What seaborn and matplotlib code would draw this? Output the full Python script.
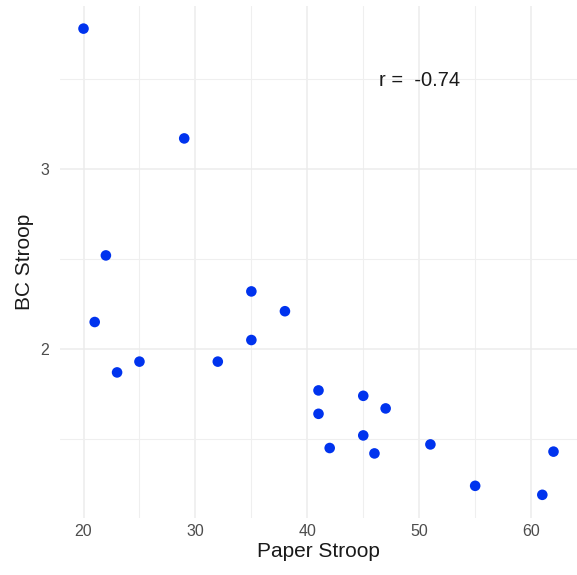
import numpy as np
import pandas as pd
import seaborn as sns
import matplotlib.pyplot as plt
from matplotlib.ticker import MultipleLocator

# Data
paper_stroop = [20, 29, 22, 21, 23, 25, 32, 35, 35, 38, 41, 41, 45, 47, 45, 42, 46, 51, 55, 61, 62]
bc_stroop = [3.78, 3.17, 2.52, 2.15, 1.87, 1.93, 1.93, 2.32, 2.05, 2.21, 1.77, 1.64, 1.74, 1.67,
             1.52, 1.45, 1.42, 1.47, 1.24, 1.19, 1.43]
r_label = "r =  -0.74"

df = pd.DataFrame({"Paper Stroop": paper_stroop, "BC Stroop": bc_stroop})

sns.set_style("white")
plt.rcParams['font.family'] = ['Liberation Sans', 'DejaVu Sans']

fig = plt.figure(figsize=(5.77, 5.75), dpi=100)
ax = fig.add_axes([0.104, 0.100, 0.896, 0.890])

sns.scatterplot(data=df, x="Paper Stroop", y="BC Stroop", color="#0033ee",
                s=58, edgecolor="none", ax=ax, zorder=3)

ax.set_xlim(17.9, 64.1)
ax.set_ylim(1.064, 3.907)
ax.xaxis.set_major_locator(MultipleLocator(10))
ax.xaxis.set_minor_locator(MultipleLocator(5))
ax.yaxis.set_major_locator(MultipleLocator(1))
ax.yaxis.set_minor_locator(MultipleLocator(0.5))
ax.grid(which="major", color="#ececec", linewidth=1.1)
ax.grid(which="minor", color="#efefef", linewidth=0.8)
ax.set_axisbelow(True)
for s in ax.spines.values():
    s.set_visible(False)
ax.tick_params(which="both", length=0, labelsize=11.5, labelcolor="#4d4d4d")
ax.tick_params(axis="x", pad=5)
ax.tick_params(axis="y", pad=8)

ax.set_xlabel("Paper Stroop", fontsize=15, color="#1a1a1a", labelpad=2)
ax.set_ylabel("BC Stroop", fontsize=15, color="#1a1a1a", labelpad=4)

ax.text(50, 3.49, r_label, ha="center", va="center", fontsize=14.5, color="#1a1a1a")

plt.savefig("out.png", dpi=100)
